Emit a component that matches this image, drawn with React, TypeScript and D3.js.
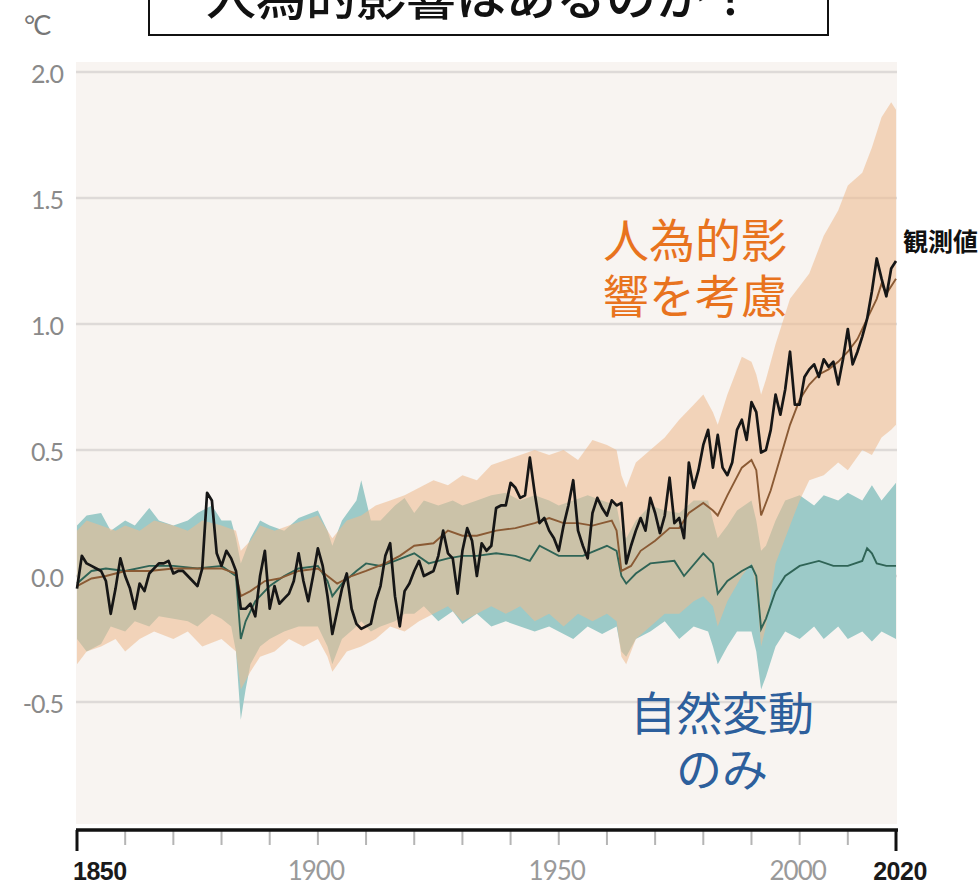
import * as d3 from "d3";

// observed annual values, 1850-2020
const obsStart = 1850;
const observed = [
  -0.05, 0.08, 0.05, 0.04, 0.03, 0.02, -0.02, -0.15, -0.05, 0.07,
  0.0, -0.05, -0.13, -0.03, -0.06, 0.01, 0.03, 0.05, 0.05, 0.06,
  0.01, 0.02, 0.02, 0.0, -0.02, -0.04, 0.03, 0.33, 0.3, 0.09,
  0.04, 0.1, 0.07, 0.02, -0.13, -0.13, -0.11, -0.16, 0.0, 0.1,
  -0.13, -0.04, -0.11, -0.09, -0.07, -0.02, 0.09, -0.02, -0.1, 0.0,
  0.11, 0.04, -0.08, -0.23, -0.14, -0.05, 0.01, -0.13, -0.19, -0.21,
  -0.2, -0.19, -0.1, -0.04, 0.08, 0.13, -0.08, -0.2, -0.06, -0.03,
  0.02, 0.06, 0.0, 0.01, 0.02, 0.08, 0.18, 0.09, 0.07, -0.07,
  0.1, 0.19, 0.14, 0.0, 0.13, 0.1, 0.12, 0.27, 0.28, 0.28,
  0.37, 0.35, 0.31, 0.32, 0.47, 0.33, 0.21, 0.23, 0.18, 0.15,
  0.1, 0.2, 0.28, 0.38, 0.18, 0.12, 0.07, 0.25, 0.31, 0.27,
  0.24, 0.3, 0.28, 0.29, 0.05, 0.12, 0.18, 0.23, 0.18, 0.31,
  0.25, 0.17, 0.24, 0.39, 0.21, 0.23, 0.15, 0.45, 0.35, 0.42,
  0.52, 0.58, 0.43, 0.56, 0.43, 0.4, 0.45, 0.58, 0.62, 0.54,
  0.69, 0.65, 0.49, 0.5, 0.58, 0.72, 0.64, 0.74, 0.89, 0.68,
  0.68, 0.79, 0.82, 0.84, 0.79, 0.86, 0.83, 0.85, 0.76, 0.86,
  0.98, 0.84, 0.89, 0.95, 1.02, 1.13, 1.26, 1.18, 1.11, 1.22,
  1.25,
];

// human + natural simulation, median line
const humanYears = [1850, 1853, 1856, 1860, 1865, 1870, 1875, 1880, 1883, 1884, 1886, 1889, 1892, 1896, 1900, 1902, 1904, 1907, 1910, 1914, 1917, 1920, 1924, 1927, 1930, 1933, 1937, 1941, 1945, 1948, 1951, 1954, 1957, 1961, 1962, 1963, 1965, 1967, 1970, 1973, 1975, 1977, 1980, 1982, 1983, 1985, 1988, 1990, 1991, 1992, 1994, 1996, 1998, 2000, 2002, 2004, 2006, 2008, 2010, 2012, 2014, 2016, 2017, 2018, 2020];
const humanMid = [-0.04, -0.01, 0.0, 0.02, 0.02, 0.03, 0.03, 0.03, 0.01, -0.08, -0.06, -0.02, -0.01, 0.02, 0.03, 0.0, -0.03, 0.0, 0.02, 0.05, 0.08, 0.12, 0.13, 0.18, 0.16, 0.16, 0.18, 0.19, 0.21, 0.23, 0.21, 0.21, 0.2, 0.22, 0.18, 0.02, 0.04, 0.1, 0.14, 0.19, 0.19, 0.25, 0.29, 0.26, 0.24, 0.32, 0.43, 0.46, 0.42, 0.24, 0.34, 0.47, 0.6, 0.7, 0.76, 0.8, 0.82, 0.85, 0.89, 0.94, 1.02, 1.1, 1.16, 1.12, 1.18];

// natural only simulation, median line
const naturalYears = [1850, 1853, 1856, 1860, 1865, 1870, 1875, 1880, 1883, 1884, 1885, 1887, 1890, 1893, 1896, 1900, 1902, 1903, 1905, 1908, 1910, 1913, 1916, 1920, 1923, 1927, 1930, 1933, 1937, 1941, 1944, 1946, 1950, 1955, 1960, 1962, 1963, 1964, 1966, 1969, 1974, 1976, 1980, 1982, 1983, 1985, 1988, 1990, 1991, 1992, 1993, 1995, 1997, 2000, 2004, 2007, 2010, 2013, 2014, 2015, 2016, 2018, 2020];
const naturalMid = [-0.03, 0.02, 0.03, 0.02, 0.04, 0.04, 0.03, 0.04, 0.0, -0.25, -0.18, -0.1, -0.04, 0.0, 0.03, 0.04, -0.02, -0.08, -0.03, 0.02, 0.05, 0.04, 0.06, 0.09, 0.05, 0.07, 0.08, 0.08, 0.09, 0.08, 0.06, 0.12, 0.08, 0.08, 0.12, 0.1, 0.0, -0.03, 0.01, 0.05, 0.06, 0.0, 0.09, 0.05, -0.07, -0.02, 0.02, 0.04, 0.0, -0.21, -0.17, -0.06, 0.0, 0.04, 0.06, 0.04, 0.04, 0.06, 0.11, 0.09, 0.05, 0.04, 0.04];

// natural only range
const natBandYears = [1850, 1852, 1855, 1857, 1860, 1862, 1865, 1867, 1870, 1873, 1875, 1878, 1880, 1882, 1883, 1884, 1885, 1886, 1888, 1890, 1893, 1896, 1900, 1902, 1903, 1905, 1908, 1909, 1911, 1913, 1916, 1918, 1920, 1922, 1925, 1928, 1930, 1933, 1936, 1939, 1942, 1945, 1948, 1950, 1953, 1956, 1959, 1962, 1963, 1964, 1966, 1969, 1972, 1975, 1978, 1981, 1982, 1983, 1985, 1987, 1990, 1991, 1992, 1993, 1995, 1997, 2000, 2003, 2005, 2008, 2010, 2013, 2015, 2017, 2020];
const natLow = [-0.25, -0.3, -0.27, -0.2, -0.22, -0.18, -0.2, -0.16, -0.17, -0.18, -0.2, -0.15, -0.17, -0.2, -0.3, -0.57, -0.45, -0.35, -0.28, -0.25, -0.22, -0.2, -0.2, -0.28, -0.35, -0.25, -0.2, -0.18, -0.22, -0.2, -0.18, -0.15, -0.15, -0.12, -0.18, -0.14, -0.19, -0.15, -0.2, -0.18, -0.2, -0.22, -0.2, -0.22, -0.25, -0.2, -0.23, -0.2, -0.3, -0.32, -0.25, -0.22, -0.18, -0.25, -0.2, -0.22, -0.28, -0.35, -0.28, -0.22, -0.22, -0.3, -0.45, -0.4, -0.28, -0.22, -0.25, -0.2, -0.25, -0.2, -0.25, -0.22, -0.26, -0.22, -0.25];
const natHigh = [0.2, 0.24, 0.25, 0.18, 0.22, 0.2, 0.27, 0.22, 0.2, 0.22, 0.25, 0.28, 0.22, 0.22, 0.15, 0.05, 0.1, 0.15, 0.22, 0.2, 0.18, 0.23, 0.26, 0.18, 0.12, 0.22, 0.3, 0.38, 0.22, 0.22, 0.28, 0.31, 0.25, 0.3, 0.28, 0.3, 0.28, 0.3, 0.32, 0.33, 0.3, 0.32, 0.3, 0.28, 0.3, 0.32, 0.3, 0.28, 0.18, 0.15, 0.22, 0.28, 0.26, 0.25, 0.3, 0.3, 0.22, 0.15, 0.2, 0.26, 0.3, 0.22, 0.1, 0.12, 0.22, 0.3, 0.32, 0.28, 0.32, 0.3, 0.33, 0.3, 0.36, 0.3, 0.37];

// human + natural range
const humBandYears = [1850, 1852, 1855, 1858, 1860, 1863, 1866, 1870, 1873, 1876, 1880, 1883, 1884, 1886, 1888, 1891, 1894, 1897, 1900, 1902, 1903, 1906, 1909, 1912, 1915, 1918, 1921, 1924, 1927, 1930, 1933, 1936, 1939, 1942, 1945, 1948, 1951, 1954, 1957, 1960, 1962, 1963, 1964, 1966, 1969, 1972, 1975, 1978, 1980, 1982, 1983, 1985, 1988, 1990, 1991, 1992, 1993, 1995, 1998, 2000, 2002, 2005, 2008, 2010, 2013, 2015, 2017, 2019, 2020];
const humLow = [-0.35, -0.3, -0.28, -0.25, -0.3, -0.25, -0.22, -0.25, -0.22, -0.28, -0.25, -0.3, -0.45, -0.38, -0.32, -0.3, -0.25, -0.28, -0.25, -0.32, -0.38, -0.3, -0.28, -0.25, -0.2, -0.22, -0.18, -0.15, -0.12, -0.18, -0.15, -0.12, -0.15, -0.12, -0.18, -0.15, -0.2, -0.15, -0.18, -0.15, -0.18, -0.32, -0.35, -0.25, -0.2, -0.15, -0.15, -0.1, -0.08, -0.12, -0.2, -0.1, 0.0, 0.05, -0.05, -0.28, -0.2, 0.05, 0.2, 0.3, 0.38, 0.4, 0.45, 0.42, 0.5, 0.48, 0.55, 0.58, 0.6];
const humHigh = [0.18, 0.22, 0.2, 0.18, 0.2, 0.18, 0.22, 0.2, 0.18, 0.22, 0.2, 0.18, 0.1, 0.14, 0.2, 0.18, 0.2, 0.22, 0.24, 0.18, 0.15, 0.22, 0.24, 0.28, 0.3, 0.32, 0.35, 0.38, 0.36, 0.4, 0.38, 0.44, 0.46, 0.48, 0.5, 0.48, 0.5, 0.46, 0.54, 0.52, 0.5, 0.4, 0.35, 0.45, 0.5, 0.55, 0.62, 0.68, 0.72, 0.65, 0.6, 0.72, 0.87, 0.85, 0.8, 0.72, 0.78, 0.92, 1.1, 1.15, 1.2, 1.35, 1.45, 1.55, 1.6, 1.7, 1.82, 1.88, 1.85];

const yTicks = [2.0, 1.5, 1.0, 0.5, 0.0, -0.5];
const xLabels = [1850, 1900, 1950, 2000, 2020];

const width = 980,
  height = 885;

export default function App() {
  const x = d3.scaleLinear().domain([1850, 2020]).range([77, 896]);
  const y = d3.scaleLinear().domain([-0.5, 2.0]).range([702, 72]);

  const obsPts: [number, number][] = observed.map((v, i) => [obsStart + i, v]);
  const line = d3
    .line<[number, number]>()
    .x((d) => x(d[0]))
    .y((d) => y(d[1]));

  const natArea = d3
    .area<number>()
    .x((d) => x(d))
    .y0((_, i) => y(natLow[i]))
    .y1((_, i) => y(natHigh[i]));
  const humArea = d3
    .area<number>()
    .x((d) => x(d))
    .y0((_, i) => y(humLow[i]))
    .y1((_, i) => y(humHigh[i]));

  const decadeTicks = d3.range(1850, 2021, 10);
  const cjk = "'Noto Sans CJK JP', sans-serif";

  return (
    <svg
      width={width}
      height={height}
      style={{ position: "absolute", left: 0, top: 0, background: "white" }}
    >
      {/* plot background */}
      <rect x={76} y={62} width={821} height={762} fill="#f8f4f1" />
      {yTicks.map((t) => (
        <line
          key={t}
          x1={76}
          x2={897}
          y1={y(t)}
          y2={y(t)}
          stroke="#dedad8"
          strokeWidth={2.5}
        />
      ))}

      <path d={natArea(natBandYears) || ""} fill="#9ccac8" />
      <path d={humArea(humBandYears) || ""} fill="#edbb90" opacity={0.58} />

      <path
        d={line(naturalYears.map((yr, i) => [yr, naturalMid[i]] as [number, number])) || ""}
        fill="none"
        stroke="#2f6456"
        strokeWidth={1.9}
      />
      <path
        d={line(humanYears.map((yr, i) => [yr, humanMid[i]] as [number, number])) || ""}
        fill="none"
        stroke="#8a5a34"
        strokeWidth={1.9}
      />
      <path
        d={line(obsPts) || ""}
        fill="none"
        stroke="#161616"
        strokeWidth={2.7}
        strokeLinejoin="round"
      />

      {/* y labels */}
      {yTicks.map((t) => (
        <text
          key={t}
          x={63}
          y={y(t) + 5}
          textAnchor="end"
          dominantBaseline="middle"
          fontFamily="Lato, sans-serif"
          fontSize={25}
          fill="#8a8a8a"
          letterSpacing={-1}
        >
          {t.toFixed(1)}
        </text>
      ))}
      <text x={24} y={35} fontFamily="Lato, sans-serif" fontSize={27} fill="#777" letterSpacing={-2}>
        °C
      </text>

      {/* x axis */}
      {decadeTicks.map((t) => {
        const end = t === 1850 || t === 2020;
        return (
          <line
            key={t}
            x1={x(t)}
            x2={x(t)}
            y1={830}
            y2={end ? 851 : 845}
            stroke={end ? "#111" : "#b5b5b5"}
            strokeWidth={end ? 3 : 2}
          />
        );
      })}
      <line x1={76} x2={898} y1={830} y2={830} stroke="#111" strokeWidth={3.5} />
      {xLabels.map((t) => {
        const end = t === 1850 || t === 2020;
        return (
          <text
            key={t}
            x={t === 1850 ? 73 : x(t) + (t === 2020 ? 4 : -2)}
            y={880}
            textAnchor={t === 1850 ? "start" : "middle"}
            fontFamily={end ? "'Liberation Sans', sans-serif" : "Lato, sans-serif"}
            fontWeight={end ? 700 : 400}
            fontSize={end ? 25 : 26}
            fill={end ? "#1a1a1a" : "#9a9a9a"}
            letterSpacing={end ? -0.5 : -1}
          >
            {t}
          </text>
        );
      })}

      {/* title box */}
      <rect x={149} y={-20} width={679} height={55} fill="white" stroke="#111" strokeWidth={2} />
      <text
        x={481}
        y={15}
        textAnchor="middle"
        fontFamily={cjk}
        fontWeight={500}
        fontSize={50}
        fill="#111"
      >
        人為的影響はあるのか？
      </text>

      {/* annotations */}
      <text x={695} y={257} textAnchor="middle" fontFamily={cjk} fontSize={46} fill="#e8731e">
        人為的影
      </text>
      <text x={695} y={313} textAnchor="middle" fontFamily={cjk} fontSize={46} fill="#e8731e">
        響を考慮
      </text>
      <text x={722} y={730} textAnchor="middle" fontFamily={cjk} fontSize={46} fill="#2d5f9c">
        自然変動
      </text>
      <text x={722} y={786} textAnchor="middle" fontFamily={cjk} fontSize={46} fill="#2d5f9c">
        のみ
      </text>
      <text x={903} y={251} fontFamily={cjk} fontWeight={700} fontSize={25} fill="#111">
        観測値
      </text>
    </svg>
  );
}
